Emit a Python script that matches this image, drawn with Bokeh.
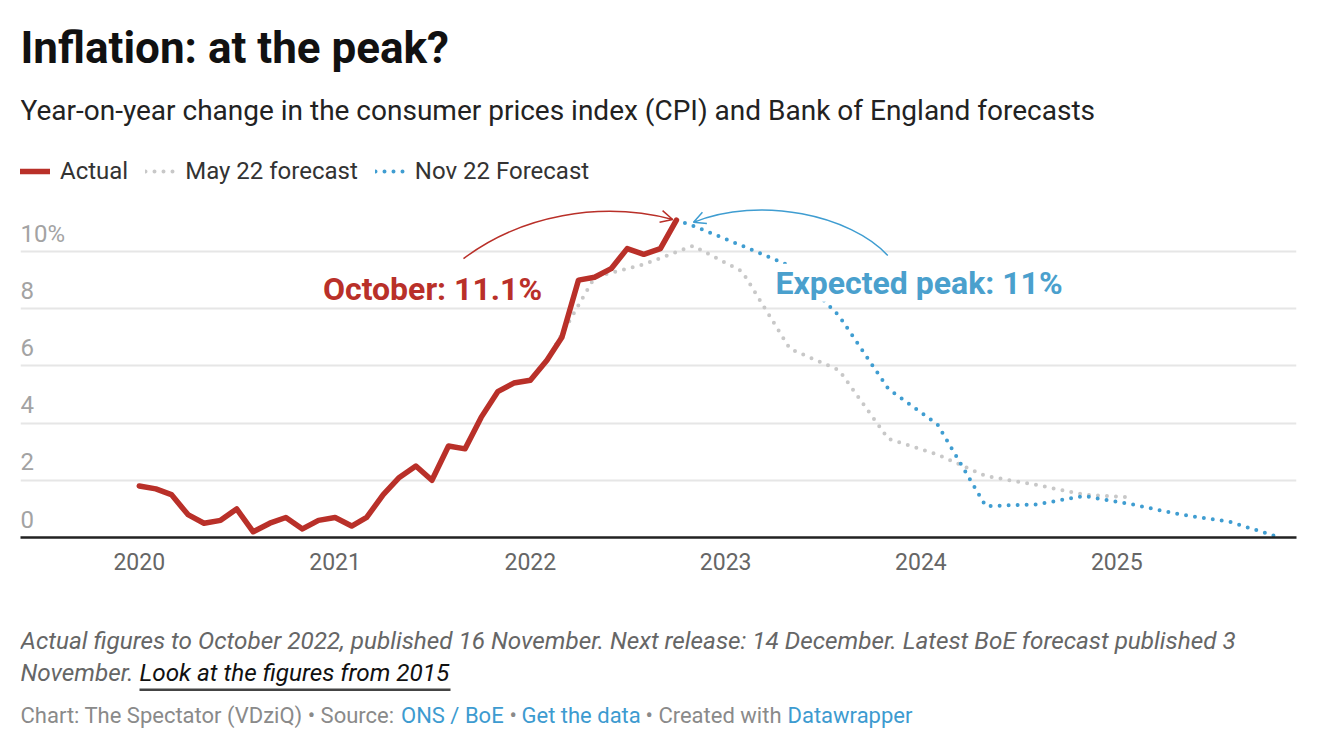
import pandas as pd
from bokeh.plotting import figure
from bokeh.layouts import column
from bokeh.core.properties import value
from bokeh.models import (Range1d, FixedTicker, DatetimeTickFormatter, Grid, LabelSet,
                          ColumnDataSource, Legend, LegendItem, Arrow, OpenHead, BoxAnnotation)
from bokeh.embed import file_html
from bokeh.resources import INLINE

# ---------------- data ----------------
title_text = "Inflation: at the peak?"
subtitle_text = "Year-on-year change in the consumer prices index (CPI) and Bank of England forecasts"
series_names = ["Actual", "May 22 forecast", "Nov 22 Forecast"]

actual_months = pd.date_range("2020-01-01", "2022-10-01", freq="MS")
actual_values = [1.8, 1.7, 1.5, 0.8, 0.5, 0.6, 1.0, 0.2, 0.5, 0.7, 0.3, 0.6,
                 0.7, 0.4, 0.7, 1.5, 2.1, 2.5, 2.0, 3.2, 3.1, 4.2, 5.1, 5.4,
                 5.5, 6.2, 7.0, 9.0, 9.1, 9.4, 10.1, 9.9, 10.1, 11.1]

may22_months = pd.to_datetime(["2022-02-01", "2022-05-01", "2022-08-01", "2022-11-01",
                               "2023-02-01", "2023-05-01", "2023-08-01", "2023-11-01",
                               "2024-02-01", "2024-05-01", "2024-08-01", "2024-11-01",
                               "2025-02-01"])
may22_values = [6.2, 9.1, 9.55, 10.2, 9.3, 6.6, 5.85, 3.45, 2.9, 2.15, 1.85, 1.5, 1.4]

nov22_months = pd.to_datetime(["2022-10-01", "2022-11-01", "2023-02-01", "2023-05-01",
                               "2023-08-01", "2023-11-01", "2024-02-01", "2024-05-01",
                               "2024-08-01", "2024-11-01", "2025-02-01", "2025-05-01",
                               "2025-08-01", "2025-11-01"])
nov22_values = [11.1, 10.9, 10.2, 9.5, 7.75, 5.2, 3.95, 1.1, 1.15, 1.45, 1.15, 0.8, 0.55, 0.0]

x_tick_years = [2020, 2021, 2022, 2023, 2024, 2025]
y_ticks = [0, 2, 4, 6, 8, 10]
y_tick_labels = ["0", "2", "4", "6", "8", "10%"]

annotation_texts = ["October: 11.1%", "Expected peak: 11%"]
notes_line1 = ("Actual figures to October 2022, published 16 November. Next release: "
               "14 December. Latest BoE forecast published 3")
notes_line2 = "November."
notes_link = "Look at the figures from 2015"
byline_parts = ["Chart: The Spectator (VDziQ) \u2022 Source:", "ONS / BoE", "\u2022",
                "Get the data", "\u2022 Created with", "Datawrapper"]

# ---------------- style ----------------
RED = "#b93029"
BLUE = "#3f9dd1"
GRAY = "#c8c8c8"
FONT = "Roboto"
W = 1308
MAIN_H = 590
FOOT_H = 155
PX_PER_UNIT = 28.6
BASE_Y = 537          # page y of the zero baseline
LEFT_X = 20           # page x of the frame's left edge
RIGHT_X = 1296


def ms(d):
    return pd.Timestamp(d).value / 1e6


# main chart: its frame reaches the top of the page so that header texts sit inside it
p = figure(width=W, height=MAIN_H, x_axis_type="datetime", y_axis_location=None,
           output_backend="svg", toolbar_location=None,
           x_range=Range1d(ms("2019-05-24"), ms("2025-12-03")),
           y_range=Range1d(0, BASE_Y / PX_PER_UNIT),
           min_border_left=LEFT_X, min_border_right=W - RIGHT_X, min_border_top=0,
           min_border_bottom=MAIN_H - BASE_Y)
p.outline_line_color = None
p.background_fill_color = "white"
p.border_fill_color = "white"
for g in p.grid:
    g.visible = False

grid = Grid(dimension=1, ticker=FixedTicker(ticks=y_ticks[1:]),
            grid_line_color="#e6e6e6", grid_line_width=2)
p.add_layout(grid)

xa = p.xaxis[0]
xa.ticker = FixedTicker(ticks=[ms(f"{y}-01-01") for y in x_tick_years])
xa.formatter = DatetimeTickFormatter(years="%Y", months="%Y", days="%Y", hours="%Y",
                                     hourmin="%Y", minutes="%Y", minsec="%Y", seconds="%Y",
                                     milliseconds="%Y", microseconds="%Y")
xa.axis_line_color = "#222222"
xa.axis_line_width = 2.5
xa.major_tick_line_color = None
xa.minor_tick_line_color = None
xa.major_label_text_font = FONT
xa.major_label_text_font_size = "23px"
xa.major_label_text_color = "#666666"
xa.major_label_standoff = 9

# y labels sit above gridlines, Datawrapper style
ysrc = ColumnDataSource(dict(x=[0] * len(y_ticks), y=y_ticks, t=y_tick_labels))
p.add_layout(LabelSet(x="x", y="y", text="t", source=ysrc, x_units="screen", y_units="data",
                      y_offset=10, text_font=value(FONT), text_font_size=value("24px"),
                      text_color="#a3a3a3", text_baseline="alphabetic"))

# series
r_may = p.line(may22_months, may22_values, line_color=GRAY, line_width=4,
               line_dash="0 9", line_cap="round")
r_nov = p.line(nov22_months, nov22_values, line_color=BLUE, line_width=4,
               line_dash="0 9", line_cap="round")
r_act = p.line(actual_months, actual_values, line_color=RED, line_width=5.5,
               line_cap="round", line_join="round")

legend = Legend(items=[LegendItem(label=series_names[0], renderers=[r_act]),
                       LegendItem(label=series_names[1], renderers=[r_may]),
                       LegendItem(label=series_names[2], renderers=[r_nov])],
                orientation="horizontal", location=(0, BASE_Y - 185),
                glyph_width=30, glyph_height=24, label_height=24, label_standoff=10,
                spacing=17, padding=0, margin=0, border_line_color=None,
                background_fill_alpha=0, label_text_font=FONT, label_text_font_size="24px",
                label_text_color="#333333", label_text_baseline="middle")
p.add_layout(legend)

# annotation arcs (anchored in data space)
red_arc = dict(x0=ms("2021-08-29"), y0=9.75, cx0=ms("2021-12-14"), cy0=11.26,
               cx1=ms("2022-05-12"), cy1=11.78, x1=ms("2022-09-24"), y1=11.12)
blue_arc = dict(x0=ms("2023-10-31"), y0=9.86, cx0=ms("2023-08-23"), cy0=11.26,
                cx1=ms("2023-03-07"), cy1=11.96, x1=ms("2022-11-02"), y1=11.02)
for arc, col in ((red_arc, RED), (blue_arc, BLUE)):
    p.bezier(x0=[arc["x0"]], y0=[arc["y0"]], x1=[arc["x1"]], y1=[arc["y1"]],
             cx0=[arc["cx0"]], cy0=[arc["cy0"]], cx1=[arc["cx1"]], cy1=[arc["cy1"]],
             line_color=col, line_width=1.5)
    xs = arc["x1"] + 0.05 * (arc["cx1"] - arc["x1"])
    ys = arc["y1"] + 0.05 * (arc["cy1"] - arc["y1"])
    p.add_layout(Arrow(end=OpenHead(size=12, line_color=col, line_width=1.5),
                       x_start=xs, y_start=ys, x_end=arc["x1"], y_end=arc["y1"],
                       line_color=col, line_width=1.5))


def lab(fig, text, x, y, size, color, style="normal", align="left", bg=None, units="screen"):
    kw = {}
    if bg:
        kw = dict(background_fill_color=bg)
    src = ColumnDataSource(dict(x=[x], y=[y], t=[text]))
    fig.add_layout(LabelSet(x="x", y="y", text="t", source=src, x_units=units, y_units=units,
                            text_font=value(FONT), text_font_size=value(size),
                            text_color=color, text_font_style=style, text_align=align,
                            text_baseline="alphabetic", **kw))


# header texts: screen units relative to the frame (left = page x 20, bottom = baseline)
lab(p, title_text, 0, BASE_Y - 62, "44px", "#111111", "bold")
lab(p, subtitle_text, 0, BASE_Y - 119.5, "28px", "#222222")
lab(p, annotation_texts[0], 432 - LEFT_X, BASE_Y - 299.3, "32px", RED, "bold", "center")
lab(p, annotation_texts[1], 918.5 - LEFT_X, BASE_Y - 293.3, "32px", "#4aa0cd", "bold",
    "center", bg="white")

# footer: a second figure whose frame is aligned with the chart frame; units = page pixels
f = figure(width=W, height=FOOT_H, x_axis_location=None, y_axis_location=None,
           output_backend="svg", toolbar_location=None,
           x_range=Range1d(LEFT_X, RIGHT_X), y_range=Range1d(0, FOOT_H),
           min_border_left=LEFT_X, min_border_right=W - RIGHT_X,
           min_border_top=0, min_border_bottom=0)
f.outline_line_color = None
for g in f.grid:
    g.visible = False
f.background_fill_color = "white"
f.border_fill_color = "white"


def fy(page_y):
    return MAIN_H + FOOT_H - page_y


lab(f, notes_line1, 20, fy(648.5), "24.3px", "#666666", "italic", units="data")
lab(f, notes_line2, 20, fy(680.5), "24.3px", "#666666", "italic", units="data")
lab(f, notes_link, 139, fy(680.5), "24.3px", "#111111", "italic", units="data")
f.add_layout(BoxAnnotation(left=139, right=450, top=fy(688), bottom=fy(690.5),
                           fill_color="#444444", fill_alpha=1, line_color=None))

by_x = [20, 400.5, 509, 521, 645, 787]
by_col = ["#8a8a8a", "#3d9bd0", "#8a8a8a", "#3d9bd0", "#8a8a8a", "#3d9bd0"]
for t, x, c in zip(byline_parts, by_x, by_col):
    lab(f, t, x, fy(722.5), "22px", c, units="data")

layout = column(p, f, spacing=0)
open("out.html", "w").write(file_html(layout, INLINE))
